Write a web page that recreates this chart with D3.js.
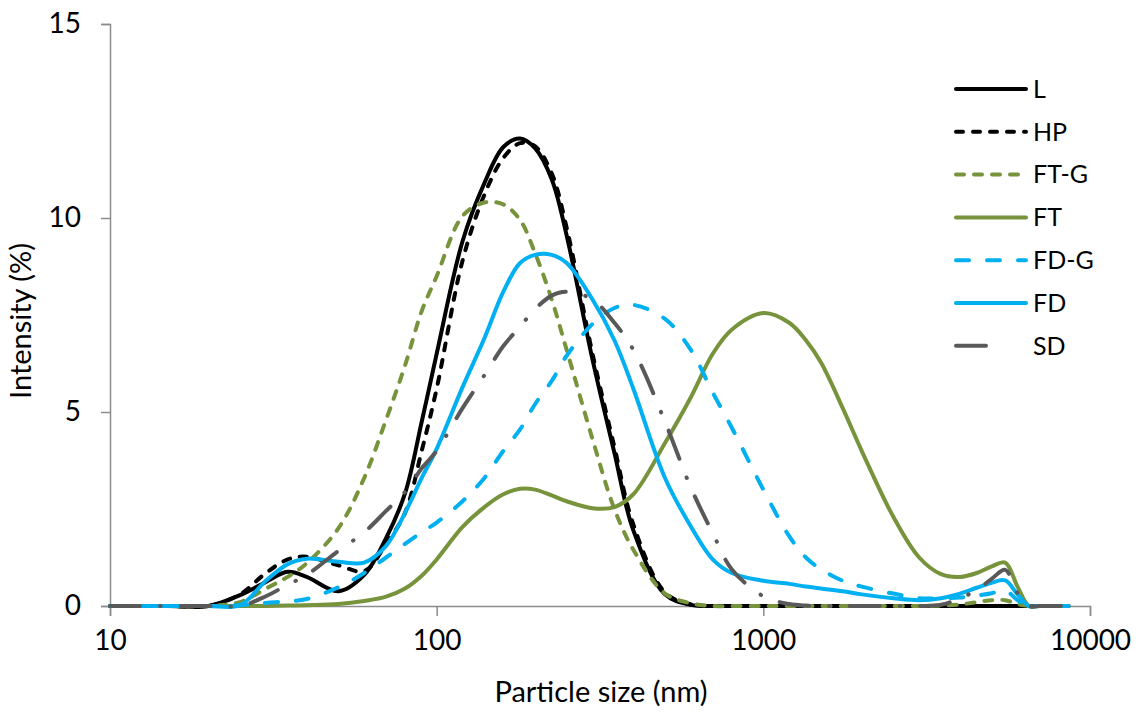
<!DOCTYPE html>
<html>
<head>
<meta charset="utf-8">
<script src="https://cdn.jsdelivr.net/npm/d3@7"></script>
<style>
  html, body { margin: 0; padding: 0; background: #fff; }
  svg { display: block; font-family: "Lato", "Open Sans", sans-serif; }
</style>
</head>
<body>
<svg id="chart" width="1145" height="717"></svg>
<script>
// ---- data (particle size in nm, intensity in %) ----
const sizes = [10, 15, 20, 25, 30, 35, 40, 50, 60, 70, 80, 90, 100, 120, 140, 160, 180, 200, 225, 250, 300, 350, 400, 500, 600, 700, 800, 1000, 1200, 1350, 1500, 1750, 2000, 2500, 3000, 3500, 4000, 4500, 5000, 5500, 6000, 6500, 7000, 8600];

const L    = [0,0,0,0.28,0.62,0.88,0.75,0.38,0.8,1.75,2.9,4.75,6.5,9.4,10.9,11.83,12.05,11.8,11.0,9.55,6.35,3.95,1.95,0.3,0.03,0,0,0,0,0,0,0,0,0,0,0,0,0,0,0,0,0,0,0];
const HP   = [0,0,0,0.3,0.85,1.2,1.27,1.05,0.9,1.6,2.4,4.0,5.6,8.9,10.6,11.55,11.93,11.85,11.15,9.75,6.5,4.1,2.1,0.35,0.04,0,0,0,0,0,0,0,0,0,0,0,0,0,0,0,0,0,0,0];
const FTG  = [0,0,0,0.1,0.45,0.75,1.1,2.0,3.3,4.8,6.2,7.6,8.5,10.05,10.4,10.35,9.95,9.1,7.9,6.6,4.3,2.5,1.45,0.32,0.07,0,0,0,0,0,0,0,0,0,0,0.01,0.04,0.1,0.15,0.15,0.05,0,0,0];
const FT   = [0,0,0,0,0,0.01,0.02,0.05,0.13,0.24,0.45,0.78,1.2,2.04,2.55,2.88,3.02,3.0,2.85,2.7,2.52,2.55,2.88,4.2,5.38,6.5,7.12,7.55,7.3,6.85,6.28,5.1,4.0,2.3,1.25,0.82,0.75,0.85,1.02,1.12,0.5,0,0,0];
const FDG  = [0,0,0,0.02,0.08,0.12,0.18,0.48,0.85,1.25,1.6,1.9,2.15,2.7,3.3,4.0,4.55,5.2,5.8,6.45,7.27,7.68,7.76,7.4,6.6,5.5,4.6,3.0,1.8,1.25,0.95,0.65,0.5,0.32,0.2,0.2,0.22,0.27,0.33,0.4,0.15,0,0,0];
const FD   = [0,0,0,0.02,0.65,1.08,1.22,1.14,1.12,1.55,2.4,3.3,4.05,5.64,6.9,8.1,8.84,9.05,9.05,8.84,7.9,6.85,5.6,3.3,2.05,1.2,0.85,0.65,0.57,0.5,0.45,0.38,0.3,0.2,0.15,0.2,0.32,0.47,0.6,0.66,0.3,0,0,0];
const SD   = [0,0,0,0,0.25,0.55,0.8,1.42,1.9,2.45,2.94,3.55,4.0,5.1,5.95,6.7,7.2,7.65,8.0,8.1,7.9,7.3,6.6,4.75,3.05,1.88,0.95,0.25,0.05,0.01,0,0,0,0,0,0.03,0.2,0.41,0.7,0.93,0.33,0,0,0];

const seriesNames = ["L", "HP", "FT-G", "FT", "FD-G", "FD", "SD"];
const seriesValues = [L, HP, FTG, FT, FDG, FD, SD];

const xTicks = [10, 100, 1000, 10000];
const yTicks = [0, 5, 10, 15];
const xTitle = "Particle size (nm)";
const yTitle = "Intensity (%)";

// ---- styles ----
const styles = {
  "L":    { color: "#000000", dash: null },
  "HP":   { color: "#000000", dash: "7,10" },
  "FT-G": { color: "#77933C", dash: "8,10" },
  "FT":   { color: "#77933C", dash: null },
  "FD-G": { color: "#00B0F0", dash: "13,18" },
  "FD":   { color: "#00B0F0", dash: null },
  "SD":   { color: "#595959", dash: "30,20,0.5,20" }
};

const svg = d3.select("#chart");
const x = d3.scaleLog().domain([10, 10000]).range([110, 1090]);
const y = d3.scaleLinear().domain([0, 15]).range([606, 24]);
const axisColor = "#8c8c8c";

// axes
const xAxis = svg.append("g").attr("transform", "translate(0,606)")
  .call(d3.axisBottom(x).tickValues(xTicks).tickFormat(d3.format("d")).tickSizeOuter(0).tickSize(10).tickPadding(14));
const yAxis = svg.append("g").attr("transform", "translate(110,0)")
  .call(d3.axisLeft(y).tickValues(yTicks).tickSizeOuter(0).tickSize(9).tickPadding(20));
[xAxis, yAxis].forEach(g => {
  g.select(".domain").attr("stroke", axisColor).attr("stroke-width", 1.5);
  g.selectAll(".tick line").attr("stroke", axisColor).attr("stroke-width", 1.5);
  g.selectAll(".tick text").attr("fill", "#000").style("font-size", "28px").style("font-family", "Lato, 'Open Sans', sans-serif");
});

// titles
svg.append("text").attr("x", 601).attr("y", 702).attr("text-anchor", "middle")
  .style("font-size", "29px").text(xTitle);
svg.append("text").attr("transform", "translate(31,321) rotate(-90)").attr("text-anchor", "middle")
  .style("font-size", "29px").text(yTitle);

// lines
const line = d3.line().x(d => x(d[0])).y(d => Math.min(606, y(d[1]))).curve(d3.curveCatmullRom.alpha(0.5));
seriesNames.forEach((name, i) => {
  const pts = sizes.map((s, j) => [s, seriesValues[i][j]]);
  const st = styles[name];
  svg.append("path").datum(pts).attr("d", line)
    .attr("fill", "none").attr("stroke", st.color).attr("stroke-width", 4)
    .attr("stroke-linecap", "round").attr("stroke-linejoin", "round")
    .attr("stroke-dasharray", st.dash);
});

// legend
const lg = svg.append("g");
seriesNames.forEach((name, i) => {
  const st = styles[name];
  const yy = 89 + i * 42.8;
  const x2 = name === "SD" ? 988 : 1026;
  lg.append("line").attr("x1", 956).attr("x2", x2).attr("y1", yy).attr("y2", yy)
    .attr("stroke", st.color).attr("stroke-width", 4).attr("stroke-linecap", "round")
    .attr("stroke-dasharray", st.dash);
  lg.append("text").attr("x", 1033).attr("y", yy).attr("dy", "0.35em")
    .style("font-size", "25px").text(name);
});
</script>
</body>
</html>
